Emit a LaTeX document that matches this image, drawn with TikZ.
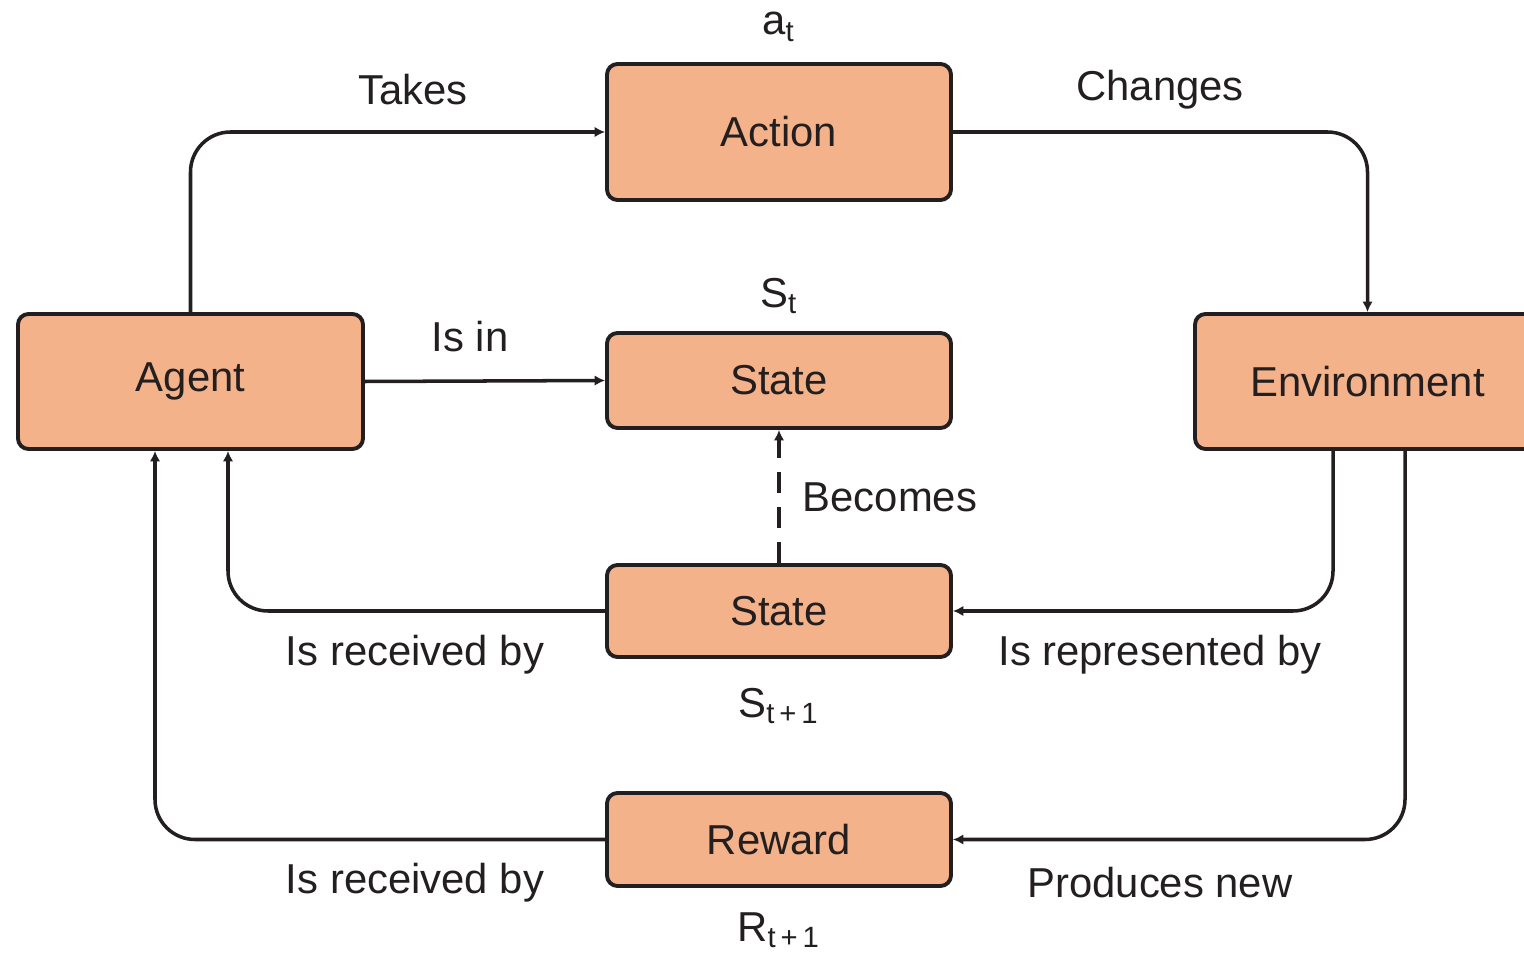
\documentclass[tikz,border=0pt]{standalone}
\usepackage{fontspec}
\setmainfont{Liberation Sans}
\usetikzlibrary{arrows.meta,positioning,calc}
\definecolor{BoxFill}{RGB}{243,178,137}
\definecolor{InkDark}{RGB}{35,31,32}

\begin{document}
\begin{tikzpicture}[
      font=\fontsize{11.9}{13}\selectfont,
      rlBox/.style={draw=InkDark,fill=BoxFill,rounded corners=3pt,
                    minimum width=3.44cm,line width=1.1pt,align=center,
                    text=InkDark},
      rlLbl/.style={text=InkDark,inner sep=1pt},
      arFlow/.style={-{Latex[length=3pt,width=3pt]},line width=1pt,InkDark,
                     rounded corners=0.4cm}
    ]
    \useasboundingbox (0,0) rectangle (15.24,9.52);

    % Boxes
    \node(action)[rlBox,minimum height=1.36cm] at (7.79, 8.20) {Action};
    \node(agent)[rlBox,minimum width=3.45cm,minimum height=1.35cm] at (1.905, 5.705) {Agent};
    \node(state)[rlBox,minimum height=0.95cm] at (7.79, 5.715) {State};
    \node(env)[rlBox,minimum width=3.45cm,minimum height=1.35cm] at (13.675, 5.705) {Environment};
    \node(nextState)[rlBox,minimum height=0.92cm] at (7.79, 3.41) {State};
    \node(reward)[rlBox,minimum height=0.93cm] at (7.79, 1.125) {Reward};

    % Symbols above / below the boxes
    \node(aT)[rlLbl] at (7.79, 9.25) {a\textsubscript{t}};
    \node(sT)[rlLbl] at (7.79, 6.56) {S\textsubscript{t}};
    \node(sNext)[rlLbl] at (7.79, 2.46) {S\textsubscript{t\,+\,1}};
    \node(rNext)[rlLbl] at (7.79, 0.22) {R\textsubscript{t\,+\,1}};

    % Connector labels
    \node(lTakes)[rlLbl] at (4.13, 8.62) {Takes};
    \node(lChanges)[rlLbl] at (11.60, 8.62) {Changes};
    \node(lIsIn)[rlLbl] at (4.70, 6.15) {Is in};
    \node(lBecomes)[rlLbl] at (8.90, 4.55) {Becomes};
    \node(lRecvA)[rlLbl] at (4.15, 2.97) {Is received by};
    \node(lRepr)[rlLbl] at (11.60, 2.97) {Is represented by};
    \node(lRecvB)[rlLbl] at (4.15, 0.69) {Is received by};
    \node(lProduces)[rlLbl] at (11.60, 0.69) {Produces new};

    % Main loop
    \draw[arFlow] (agent.north) |- (action.west);
    \draw[arFlow] (action.east) -| (env.north);
    \draw[arFlow] (agent.east) -- (state.west);
    \draw[arFlow,dashed,dash pattern=on 6pt off 4pt] (nextState.north) -- (state.south);

    % Environment feedback
    \draw[arFlow] ([xshift=-3.45mm]env.south) |- (nextState.east);
    \draw[arFlow] ([xshift=3.75mm]env.south) |- (reward.east);
    \draw[arFlow] (nextState.west) -| ([xshift=3.75mm]agent.south);
    \draw[arFlow] (reward.west) -| ([xshift=-3.55mm]agent.south);
  \end{tikzpicture}
\end{document}
